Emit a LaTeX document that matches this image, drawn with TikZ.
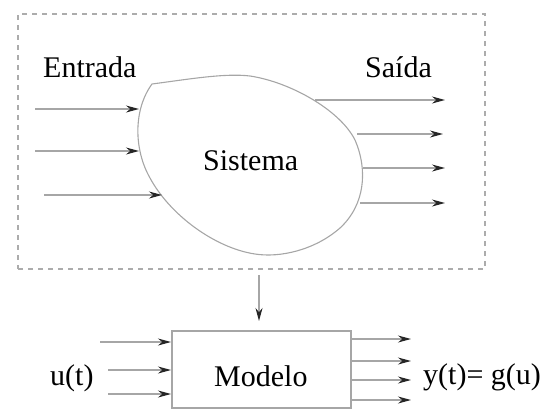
\documentclass[tikz,border=0pt]{standalone}
\usepackage{fontspec}
\setmainfont{LiberationSerif}[Extension=.ttf, UprightFont=*-Regular, BoldFont=*-Bold, ItalicFont=*-Italic, BoldItalicFont=*-BoldItalic]
\usetikzlibrary{arrows.meta}
\begin{document}
\begin{tikzpicture}[x=1pt,y=-1pt,
  lbl/.style={inner sep=0pt, anchor=base west, font=\rmfamily\fontsize{30}{36}\selectfont},
  arr/.style={draw=gray!70, line width=1.2pt, -{Stealth[length=13pt,width=7pt,color=black!85]}},
  frm/.style={draw=gray!65, line width=1.2pt, dash pattern=on 5pt off 5pt, inner sep=0pt},
  shp/.style={draw=gray!70, line width=1.1pt},
  boxst/.style={draw=gray!70, line width=1.1pt, inner sep=0pt}]
\useasboundingbox (0,0) rectangle (545,410);
% dashed frame
\node[frm, minimum width=467pt, minimum height=255pt] (frame) at (251.5,141.5) {};
% system blob
\draw[shp] (152,84) .. controls (190,79) and (225,73) .. (250,76)
  .. controls (290,82) and (340,110) .. (355,140)
  .. controls (368,170) and (365,205) .. (340,228)
  .. controls (315,250) and (280,258) .. (255,254)
  .. controls (215,248) and (170,215) .. (150,178)
  .. controls (134,150) and (133,110) .. (152,84) -- cycle;
% labels
\node[lbl] (entrada) at (43,77) {Entrada};
\node[lbl] (saida) at (365,77) {Saída};
\node[lbl] (sistema) at (203,170) {Sistema};
% input arrows
\coordinate (i1s) at (35,109);  \coordinate (i1e) at (139,109);
\coordinate (i2s) at (35,151);  \coordinate (i2e) at (139,151);
\coordinate (i3s) at (44,195);  \coordinate (i3e) at (162,195);
\draw[arr] (i1s) -- (i1e);
\draw[arr] (i2s) -- (i2e);
\draw[arr] (i3s) -- (i3e);
% output arrows
\coordinate (o1s) at (315,100); \coordinate (o1e) at (445,100);
\coordinate (o2s) at (357,134); \coordinate (o2e) at (443,134);
\coordinate (o3s) at (363,168); \coordinate (o3e) at (445,168);
\coordinate (o4s) at (360,203); \coordinate (o4e) at (445,203);
\draw[arr] (o1s) -- (o1e);
\draw[arr] (o2s) -- (o2e);
\draw[arr] (o3s) -- (o3e);
\draw[arr] (o4s) -- (o4e);
% model box
\node[boxst, minimum width=179pt, minimum height=77pt] (box) at (261.5,369.5) {};
\node[lbl] (modelo) at (214,386) {Modelo};
\node[lbl] (u) at (50,385) {u(t)};
\node[lbl] (y) at (423,384) {y(t)= g(u)};
% down arrow
\coordinate (ds) at (259,275);
\coordinate (de) at (259,321);
\draw[arr] (ds) -- (de);
% model inputs
\coordinate (m1s) at (100,342); \coordinate (m1e) at (171,342);
\coordinate (m2s) at (108,370); \coordinate (m2e) at (171,370);
\coordinate (m3s) at (108,394); \coordinate (m3e) at (171,394);
\draw[arr] (m1s) -- (m1e);
\draw[arr] (m2s) -- (m2e);
\draw[arr] (m3s) -- (m3e);
% model outputs
\coordinate (n1s) at (352,339); \coordinate (n1e) at (411,339);
\coordinate (n2s) at (352,361); \coordinate (n2e) at (411,361);
\coordinate (n3s) at (352,380); \coordinate (n3e) at (411,380);
\coordinate (n4s) at (352,400); \coordinate (n4e) at (411,400);
\draw[arr] (n1s) -- (n1e);
\draw[arr] (n2s) -- (n2e);
\draw[arr] (n3s) -- (n3e);
\draw[arr] (n4s) -- (n4e);
\end{tikzpicture}
\end{document}
